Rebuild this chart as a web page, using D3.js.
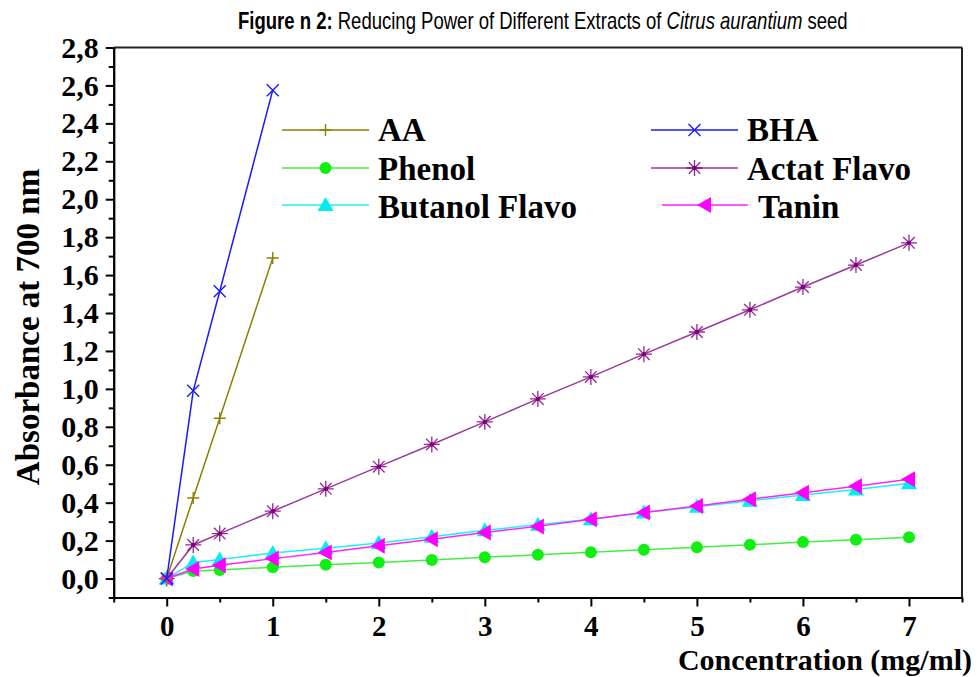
<!DOCTYPE html>
<html>
<head>
<meta charset="utf-8">
<script src="https://cdn.jsdelivr.net/npm/d3@7"></script>
<style>
html,body{margin:0;padding:0;background:#fff;}
svg{display:block;}
</style>
</head>
<body>
<svg id="chart" width="977" height="677"></svg>
<script>
// ---- data ----
const xFull = [0, 0.25, 0.5, 1, 1.5, 2, 2.5, 3, 3.5, 4, 4.5, 5, 5.5, 6, 6.5, 7];
const xShort = [0, 0.25, 0.5, 1];
const aaValues = [0, 0.425, 0.845, 1.69];
const bhaValues = [0, 0.99, 1.515, 2.575];
const phenolValues = [0, 0.04, 0.045, 0.06, 0.073, 0.085, 0.098, 0.112, 0.125, 0.138, 0.152, 0.165, 0.178, 0.192, 0.205, 0.218];
const actatValues = [0, 0.177, 0.237, 0.355, 0.473, 0.59, 0.707, 0.826, 0.947, 1.063, 1.183, 1.3, 1.417, 1.537, 1.653, 1.77];
const butanolValues = [0, 0.085, 0.1, 0.135, 0.16, 0.188, 0.22, 0.255, 0.283, 0.313, 0.348, 0.378, 0.41, 0.44, 0.47, 0.503];
const taninValues = [0, 0.05, 0.07, 0.105, 0.137, 0.173, 0.207, 0.243, 0.275, 0.313, 0.348, 0.383, 0.418, 0.452, 0.487, 0.523];
const seriesNames = ["AA", "BHA", "Phenol", "Actat Flavo", "Butanol Flavo", "Tanin"];
const yMajorTicks = [0, 0.2, 0.4, 0.6, 0.8, 1.0, 1.2, 1.4, 1.6, 1.8, 2.0, 2.2, 2.4, 2.6, 2.8];
const yMinorTicks = [-0.1, 0.1, 0.3, 0.5, 0.7, 0.9, 1.1, 1.3, 1.5, 1.7, 1.9, 2.1, 2.3, 2.5, 2.7];
const xMajorTicks = [0, 1, 2, 3, 4, 5, 6, 7];
const xMinorTicks = [-0.5, 0.5, 1.5, 2.5, 3.5, 4.5, 5.5, 6.5, 7.5];

// ---- styles ----
const styles = {
  "AA":            {line: "#8a8000", mark: "#8a8000", shape: "plus"},
  "BHA":           {line: "#1a1aff", mark: "#1a1aff", shape: "x"},
  "Phenol":        {line: "#44ee44", mark: "#11ee11", shape: "circle"},
  "Actat Flavo":   {line: "#9a3a9a", mark: "#800080", shape: "star"},
  "Butanol Flavo": {line: "#22f0f0", mark: "#00eeee", shape: "triUp"},
  "Tanin":         {line: "#ff22ff", mark: "#ff00ff", shape: "triLeft"}
};
const seriesData = [
  {name: "AA", xs: xShort, ys: aaValues},
  {name: "BHA", xs: xShort, ys: bhaValues},
  {name: "Phenol", xs: xFull, ys: phenolValues},
  {name: "Actat Flavo", xs: xFull, ys: actatValues},
  {name: "Butanol Flavo", xs: xFull, ys: butanolValues},
  {name: "Tanin", xs: xFull, ys: taninValues}
];

const svg = d3.select("#chart");
const x = d3.scaleLinear().domain([-0.5, 7.5]).range([113.7, 962]);
const y = d3.scaleLinear().domain([-0.1, 2.8]).range([597.5, 47.5]);
const serif = "'Liberation Serif', 'Times New Roman', serif";
const fmt = d => d3.format(".1f")(d).replace(".", ",");

// frame top & right
svg.append("line").attr("x1", x(-0.5)).attr("x2", x(7.5)).attr("y1", y(2.8)).attr("y2", y(2.8))
  .attr("stroke", "#222").attr("stroke-width", 2);
svg.append("line").attr("x1", x(7.5)).attr("x2", x(7.5)).attr("y1", y(2.8)).attr("y2", y(-0.1))
  .attr("stroke", "#222").attr("stroke-width", 2);

// axes
svg.append("g").attr("transform", `translate(${x(-0.5)},0)`)
  .call(d3.axisLeft(y).tickValues(yMajorTicks).tickFormat(fmt).tickSize(8).tickPadding(7).tickSizeOuter(0))
  .selectAll("text").attr("font-size", 30);
svg.append("g").attr("transform", `translate(${x(-0.5)},0)`)
  .call(d3.axisLeft(y).tickValues(yMinorTicks).tickFormat("").tickSize(5).tickSizeOuter(0));
svg.append("g").attr("transform", `translate(0,${y(-0.1)})`)
  .call(d3.axisBottom(x).tickValues(xMajorTicks).tickFormat(d3.format("d")).tickSize(9).tickPadding(9).tickSizeOuter(0))
  .selectAll("text").attr("font-size", 29);
svg.append("g").attr("transform", `translate(0,${y(-0.1)})`)
  .call(d3.axisBottom(x).tickValues(xMinorTicks).tickFormat("").tickSize(5).tickSizeOuter(0));
svg.selectAll(".domain").attr("stroke", "#000").attr("stroke-width", 2);
svg.selectAll(".tick line").attr("stroke", "#000").attr("stroke-width", 2);
svg.selectAll(".tick text").attr("font-family", serif).attr("font-weight", "bold").attr("fill", "#000");

// axis titles
svg.append("text").attr("transform", "translate(39,327) rotate(-90)")
  .attr("text-anchor", "middle").attr("font-family", serif).attr("font-weight", "bold")
  .attr("font-size", 33).text("Absorbance at 700 nm");
svg.append("text").attr("x", 972).attr("y", 670).attr("text-anchor", "end")
  .attr("font-family", serif).attr("font-weight", "bold").attr("font-size", 30)
  .text("Concentration (mg/ml)");

// title
const sans = "'Liberation Sans Narrow', 'Arial Narrow', 'Liberation Sans', Arial, sans-serif";
const title = svg.append("text").attr("x", 0).attr("y", 0).attr("font-family", sans).attr("font-size", 24);
title.append("tspan").attr("font-weight", "bold").text("Figure n 2:");
title.append("tspan").text(" Reducing Power of Different Extracts of ");
title.append("tspan").attr("font-style", "italic").text("Citrus aurantium");
title.append("tspan").text(" seed");
{
  const w = title.node().getComputedTextLength();
  const sx = 610 / w;
  title.attr("transform", `translate(238,29) scale(${sx},1)`);
}

// marker drawing
function drawMarker(g, shape, color, cx, cy) {
  if (shape === "plus") {
    const r = 6;
    g.append("path").attr("d", `M${cx - r},${cy}H${cx + r}M${cx},${cy - r}V${cy + r}`)
      .attr("stroke", color).attr("stroke-width", 1.4).attr("fill", "none");
  } else if (shape === "x") {
    const r = 6;
    g.append("path").attr("d", `M${cx - r},${cy - r}L${cx + r},${cy + r}M${cx - r},${cy + r}L${cx + r},${cy - r}`)
      .attr("stroke", color).attr("stroke-width", 1.4).attr("fill", "none");
  } else if (shape === "circle") {
    g.append("circle").attr("cx", cx).attr("cy", cy).attr("r", 6).attr("fill", color);
  } else if (shape === "star") {
    const r = 8, d = 5.8;
    g.append("path").attr("d", `M${cx - r},${cy}H${cx + r}M${cx},${cy - r}V${cy + r}M${cx - d},${cy - d}L${cx + d},${cy + d}M${cx - d},${cy + d}L${cx + d},${cy - d}`)
      .attr("stroke", color).attr("stroke-width", 1.3).attr("fill", "none").attr("opacity", 0.85);
    g.append("circle").attr("cx", cx).attr("cy", cy).attr("r", 2.2).attr("fill", color);
  } else if (shape === "triUp") {
    const r = 8;
    g.append("path").attr("d", `M${cx},${cy - r}L${cx + r},${cy + r * 0.75}L${cx - r},${cy + r * 0.75}Z`).attr("fill", color);
  } else if (shape === "triLeft") {
    const r = 8;
    g.append("path").attr("d", `M${cx - r},${cy}L${cx + r * 0.75},${cy - r}L${cx + r * 0.75},${cy + r}Z`).attr("fill", color);
  }
}

// series
const drawOrder = ["Phenol", "Actat Flavo", "Butanol Flavo", "Tanin", "AA", "BHA"];
const line = d3.line().x(d => x(d[0])).y(d => y(d[1]));
drawOrder.forEach(name => {
  const s = seriesData.find(d => d.name === name);
  const st = styles[name];
  const pts = s.xs.map((v, i) => [v, s.ys[i]]);
  const g = svg.append("g");
  g.append("path").datum(pts).attr("d", line).attr("fill", "none")
    .attr("stroke", st.line).attr("stroke-width", 1.5);
  pts.forEach(p => drawMarker(g, st.shape, st.mark, x(p[0]), y(p[1])));
});

// legend
const legendPos = {
  "AA":            {x1: 282, x2: 369, ty: 141, ly: 130, tx: 378},
  "Phenol":        {x1: 282, x2: 369, ty: 180, ly: 168, tx: 378},
  "Butanol Flavo": {x1: 282, x2: 369, ty: 218, ly: 205, tx: 378},
  "BHA":           {x1: 651, x2: 738, ty: 141, ly: 130, tx: 747},
  "Actat Flavo":   {x1: 651, x2: 738, ty: 180, ly: 168, tx: 747},
  "Tanin":         {x1: 662, x2: 748, ty: 218, ly: 205, tx: 758}
};
seriesNames.forEach(name => {
  const p = legendPos[name], st = styles[name];
  const g = svg.append("g");
  g.append("line").attr("x1", p.x1).attr("x2", p.x2).attr("y1", p.ly).attr("y2", p.ly)
    .attr("stroke", st.line).attr("stroke-width", 1.5);
  drawMarker(g, st.shape, st.mark, (p.x1 + p.x2) / 2, p.ly);
  g.append("text").attr("x", p.tx).attr("y", p.ty).attr("font-family", serif)
    .attr("font-weight", "bold").attr("font-size", 33).text(name);
});
</script>
</body>
</html>
